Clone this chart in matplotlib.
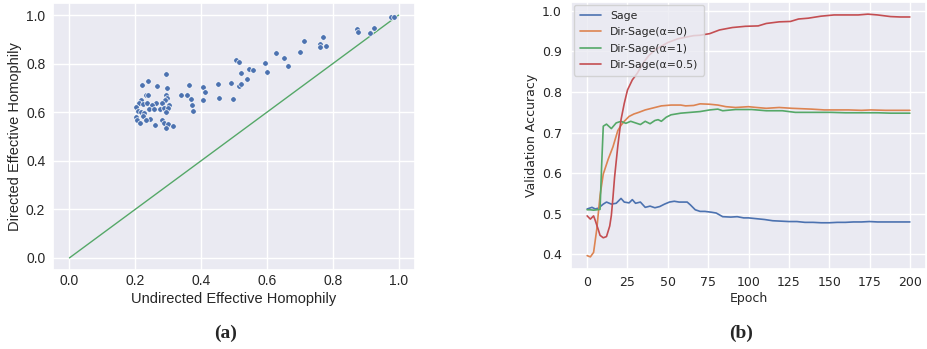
#Recreate the homophily scatter (a) and validation accuracy curves (b)

#import the libraries
import matplotlib
matplotlib.use('Agg')
import matplotlib.pyplot as plt
import seaborn as sns

sns.set_theme(style='darkgrid')

#store the data for panel (a): undirected vs directed effective homophily
undirected_h = [0.292, 0.221, 0.239, 0.266, 0.297, 0.232, 0.240, 0.293, 0.217, 0.297,
                0.289, 0.263, 0.211, 0.222, 0.237, 0.251, 0.280, 0.304, 0.203, 0.243,
                0.258, 0.274, 0.287, 0.299, 0.208, 0.218, 0.228, 0.294, 0.203, 0.223,
                0.246, 0.233, 0.282, 0.205, 0.215, 0.286, 0.299, 0.260, 0.316, 0.292,
                0.362, 0.338, 0.357, 0.369, 0.373, 0.375, 0.407, 0.412, 0.407, 0.450,
                0.453, 0.496, 0.490, 0.515, 0.521, 0.521, 0.540, 0.507, 0.515, 0.546,
                0.558, 0.595, 0.601, 0.629, 0.653, 0.663, 0.700, 0.712, 0.760, 0.761,
                0.769, 0.780, 0.873, 0.876, 0.914, 0.925, 0.976, 0.985]
directed_h = [0.757, 0.713, 0.727, 0.708, 0.698, 0.673, 0.673, 0.673, 0.652, 0.657,
              0.650, 0.639, 0.637, 0.634, 0.639, 0.629, 0.637, 0.631, 0.623, 0.613,
              0.613, 0.613, 0.618, 0.618, 0.607, 0.600, 0.596, 0.600, 0.582, 0.586,
              0.572, 0.566, 0.568, 0.566, 0.555, 0.557, 0.552, 0.548, 0.545, 0.536,
              0.712, 0.673, 0.673, 0.654, 0.630, 0.607, 0.705, 0.684, 0.650, 0.716,
              0.659, 0.655, 0.721, 0.707, 0.716, 0.762, 0.736, 0.816, 0.807, 0.780,
              0.773, 0.803, 0.764, 0.846, 0.824, 0.791, 0.848, 0.895, 0.883, 0.868,
              0.909, 0.874, 0.941, 0.932, 0.928, 0.946, 0.992, 0.992]

#store the data for panel (b): validation accuracy per epoch
sage_epoch = [0, 3, 5, 7, 10, 12, 15, 18, 21, 23, 26, 28, 30, 33, 36, 39, 42, 45, 48, 51,
              54, 57, 62, 64, 67, 70, 73, 77, 80, 84, 89, 93, 97, 100, 105, 110, 115, 120,
              125, 130, 135, 140, 145, 150, 155, 160, 165, 170, 175, 180, 185, 190, 195, 200]
sage_acc = [0.512, 0.516, 0.512, 0.514, 0.524, 0.529, 0.524, 0.526, 0.538, 0.529, 0.527,
            0.535, 0.526, 0.529, 0.516, 0.519, 0.515, 0.518, 0.524, 0.529, 0.531, 0.529,
            0.529, 0.522, 0.510, 0.506, 0.506, 0.504, 0.502, 0.493, 0.492, 0.493, 0.490,
            0.490, 0.488, 0.486, 0.483, 0.482, 0.481, 0.481, 0.479, 0.479, 0.478, 0.478,
            0.479, 0.479, 0.480, 0.480, 0.481, 0.480, 0.480, 0.480, 0.480, 0.480]

dir0_epoch = [0, 2, 4, 6, 8, 10, 13, 16, 19, 21, 23, 26, 29, 32, 36, 40, 46, 52, 58, 61,
              66, 70, 76, 81, 86, 92, 100, 105, 111, 119, 127, 133, 139, 147, 155, 162,
              170, 176, 185, 192, 200]
dir0_acc = [0.397, 0.394, 0.405, 0.463, 0.545, 0.598, 0.634, 0.665, 0.705, 0.718, 0.728,
            0.740, 0.746, 0.750, 0.756, 0.760, 0.766, 0.768, 0.768, 0.766, 0.767, 0.771,
            0.770, 0.768, 0.764, 0.762, 0.764, 0.762, 0.760, 0.762, 0.760, 0.759, 0.758,
            0.756, 0.756, 0.756, 0.755, 0.756, 0.755, 0.755, 0.755]

dir1_epoch = [0, 2, 4, 6, 8, 9, 10, 12, 15, 18, 21, 24, 27, 30, 33, 36, 39, 42, 44, 46,
              49, 52, 58, 64, 70, 76, 81, 84, 92, 102, 111, 121, 129, 139, 151, 160, 172,
              180, 188, 200]
dir1_acc = [0.510, 0.510, 0.509, 0.510, 0.511, 0.620, 0.716, 0.721, 0.710, 0.724, 0.728,
            0.723, 0.728, 0.724, 0.720, 0.728, 0.722, 0.730, 0.732, 0.728, 0.738, 0.744,
            0.748, 0.750, 0.752, 0.756, 0.758, 0.754, 0.757, 0.757, 0.754, 0.754, 0.750,
            0.750, 0.750, 0.749, 0.749, 0.749, 0.748, 0.748]

dir05_epoch = [0, 2, 4, 5, 7, 8, 10, 12, 14, 15, 16, 17, 19, 21, 23, 25, 28, 31, 35, 38,
               42, 46, 50, 56, 62, 66, 70, 76, 82, 90, 98, 106, 111, 119, 126, 131, 137,
               145, 153, 162, 168, 174, 180, 188, 194, 200]
dir05_acc = [0.495, 0.487, 0.495, 0.484, 0.460, 0.447, 0.441, 0.444, 0.470, 0.496, 0.540,
             0.590, 0.667, 0.732, 0.772, 0.805, 0.830, 0.846, 0.873, 0.889, 0.904, 0.913,
             0.922, 0.931, 0.936, 0.939, 0.940, 0.944, 0.953, 0.959, 0.962, 0.963, 0.969,
             0.973, 0.974, 0.980, 0.982, 0.987, 0.990, 0.990, 0.990, 0.992, 0.990, 0.986,
             0.985, 0.985]

blue, orange, green, red = sns.color_palette('deep')[:4]

#Get the figure (927x349 px)
fig = plt.figure(figsize=(9.27, 3.49), dpi=100)
W, H = 927, 349

#panel (a)
ax1 = fig.add_axes([53 / W, 1 - 270 / H, 362 / W, 267 / H])
ax1.plot([0, 1], [0, 1], color=green, lw=1.0)
ax1.scatter(undirected_h, directed_h, s=16, color=blue, edgecolor='white', linewidth=0.5, zorder=3)
ax1.set_xticks([0.0, 0.2, 0.4, 0.6, 0.8, 1.0])
ax1.set_yticks([0.0, 0.2, 0.4, 0.6, 0.8, 1.0])
for lab in ax1.get_xticklabels() + ax1.get_yticklabels():
    lab.set_family('Liberation Sans')
    lab.set_fontsize(10)
ax1.tick_params(axis='x', length=0, pad=3)
ax1.tick_params(axis='y', length=0, pad=5.5)
ax1.set_xlabel('Undirected Effective Homophily', family='Liberation Sans', fontsize=10.5, labelpad=3)
ax1.set_ylabel('Directed Effective Homophily', family='Liberation Sans', fontsize=10.5, labelpad=3)

#panel (b)
ax2 = fig.add_axes([571 / W, 1 - 269 / H, 355 / W, 267 / H])
ax2.plot(sage_epoch, sage_acc, color=blue, lw=1.2, label='Sage')
ax2.plot(dir0_epoch, dir0_acc, color=orange, lw=1.2, label='Dir-Sage(α=0)')
ax2.plot(dir1_epoch, dir1_acc, color=green, lw=1.2, label='Dir-Sage(α=1)')
ax2.plot(dir05_epoch, dir05_acc, color=red, lw=1.2, label='Dir-Sage(α=0.5)')
ax2.set_xticks([0, 25, 50, 75, 100, 125, 150, 175, 200])
ax2.set_yticks([0.4, 0.5, 0.6, 0.7, 0.8, 0.9, 1.0])
ax2.tick_params(axis='x', labelsize=9, length=0, pad=5)
ax2.tick_params(axis='y', labelsize=9, length=0, pad=6.5)
ax2.set_xlabel('Epoch', fontsize=9, labelpad=2)
ax2.set_ylabel('Validation Accuracy', fontsize=9, labelpad=3)
ax2.legend(loc='upper left', fontsize=7.8, borderaxespad=0.3, handlelength=2.0,
           labelspacing=0.6, borderpad=0.5)

#panel captions
fig.text(226 / W, 1 - 333 / H, '(a)', family='Liberation Serif', weight='bold', fontsize=14,
         ha='center', va='center')
fig.text(741 / W, 1 - 333 / H, '(b)', family='Liberation Serif', weight='bold', fontsize=14,
         ha='center', va='center')

fig.savefig('out.png', dpi=100)
